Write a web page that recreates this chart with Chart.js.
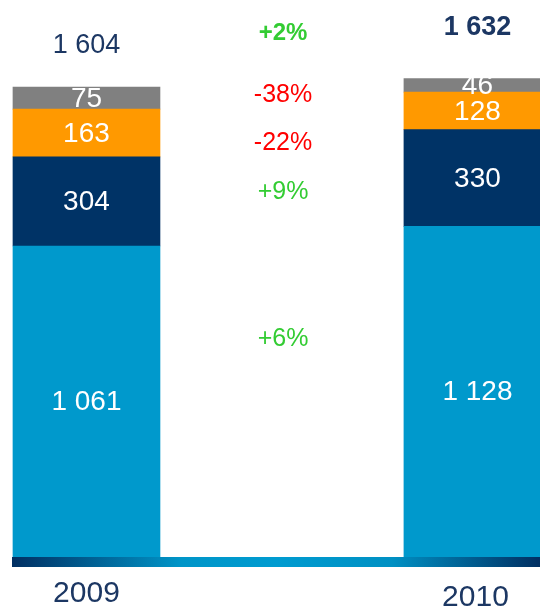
<!DOCTYPE html>
<html>
<head>
<meta charset="utf-8">
<script src="https://cdn.jsdelivr.net/npm/chart.js@4/dist/chart.umd.min.js"></script>
<style>
  html, body { margin: 0; padding: 0; background: #fff; }
  #wrap { width: 540px; height: 609px; }
</style>
</head>
<body>
<div id="wrap"><canvas id="chart"></canvas></div>
<script>
// years on the x axis
const years = ["2009", "2010"];

// segment values, bottom to top
const segBase   = [1061, 1128];
const segNavy   = [304, 330];
const segOrange = [163, 128];
const segGray   = [75, 46];

// totals shown above each bar
const totals = ["1 604", "1 632"];

// change between the years, top label is the total
const changeLabels = ["+2%", "-38%", "-22%", "+9%", "+6%"];

const NAVY_TEXT = "#1c3763";
const GREEN = "#33cc33";
const RED = "#ff0000";
const FONT = "'Liberation Sans', Arial, sans-serif";

function mkSet(vals, color) {
  return {
    data: vals.map((v, i) => ({ x: i, y: v })),
    backgroundColor: color,
    borderWidth: 0,
    barThickness: 147
  };
}

// gradient strip along the base + totals, change labels and years
const decor = {
  id: "decor",
  beforeDatasetsDraw(chart) {
    const { ctx, chartArea } = chart;
    ctx.save();
    const g = ctx.createLinearGradient(chartArea.left, 0, chartArea.right, 0);
    g.addColorStop(0, "#012f62");
    g.addColorStop(0.32, "#0095c8");
    g.addColorStop(0.5, "#009bd0");
    g.addColorStop(0.72, "#0090c3");
    g.addColorStop(1, "#012f62");
    ctx.fillStyle = g;
    ctx.fillRect(chartArea.left, chartArea.bottom, chartArea.right - chartArea.left, 10);
    ctx.restore();
  },
  afterDatasetsDraw(chart) {
    const { ctx, chartArea, scales } = chart;
    const x = scales.x, y = scales.y;
    ctx.save();
    ctx.textAlign = "center";
    ctx.textBaseline = "middle";

    // totals
    const sums = years.map((_, i) => segBase[i] + segNavy[i] + segOrange[i] + segGray[i]);
    ctx.fillStyle = NAVY_TEXT;
    ctx.font = "27px " + FONT;
    ctx.fillText(totals[0], x.getPixelForValue(0), y.getPixelForValue(sums[0]) - 42);
    ctx.font = "bold 27px " + FONT;
    ctx.fillText(totals[1], x.getPixelForValue(1), y.getPixelForValue(sums[1]) - 51);

    // change column between the bars
    const cx = 283;
    const rows = [33, 95, 143, 192, 339];
    changeLabels.forEach((t, i) => {
      ctx.fillStyle = t.startsWith("-") ? RED : GREEN;
      ctx.font = (i === 0 ? "bold 24px " : "25px ") + FONT;
      ctx.fillText(t, cx, rows[i]);
    });

    // years
    ctx.fillStyle = NAVY_TEXT;
    ctx.font = "30px " + FONT;
    ctx.fillText(years[0], x.getPixelForValue(0), chartArea.bottom + 37);
    ctx.fillText(years[1], x.getPixelForValue(1) - 2, chartArea.bottom + 41);
    ctx.restore();
  }
};

// value labels inside the segments
const segLabels = {
  id: "segLabels",
  afterDatasetsDraw(chart) {
    const { ctx } = chart;
    ctx.save();
    ctx.fillStyle = "#fff";
    ctx.textAlign = "center";
    ctx.textBaseline = "middle";
    ctx.font = "28px " + FONT;
    chart.data.datasets.forEach((ds, di) => {
      chart.getDatasetMeta(di).data.forEach((bar, i) => {
        const v = ds.data[i].y;
        const txt = v >= 1000 ? String(v).replace(/(\d)(\d{3})$/, "$1 $2") : String(v);
        const p = bar.getProps(["x", "y", "base"], true);
        ctx.fillText(txt, p.x, (p.y + p.base) / 2 + 1);
      });
    });
    ctx.restore();
  }
};

new Chart(document.getElementById("chart"), {
  type: "bar",
  data: {
    datasets: [
      mkSet(segBase, "#0099cc"),
      mkSet(segNavy, "#003366"),
      mkSet(segOrange, "#ff9900"),
      mkSet(segGray, "#808080")
    ]
  },
  options: {
    responsive: true,
    maintainAspectRatio: false,
    animation: false,
    layout: { padding: { left: 12, right: 0, top: 0, bottom: 52 } },
    plugins: { legend: { display: false }, tooltip: { enabled: false } },
    scales: {
      x: { type: "linear", stacked: true, display: false, offset: false, min: -0.1905, max: 1.16 },
      y: { stacked: true, display: false, min: 0, max: 1900 }
    }
  },
  plugins: [decor, segLabels]
});
</script>
</body>
</html>
